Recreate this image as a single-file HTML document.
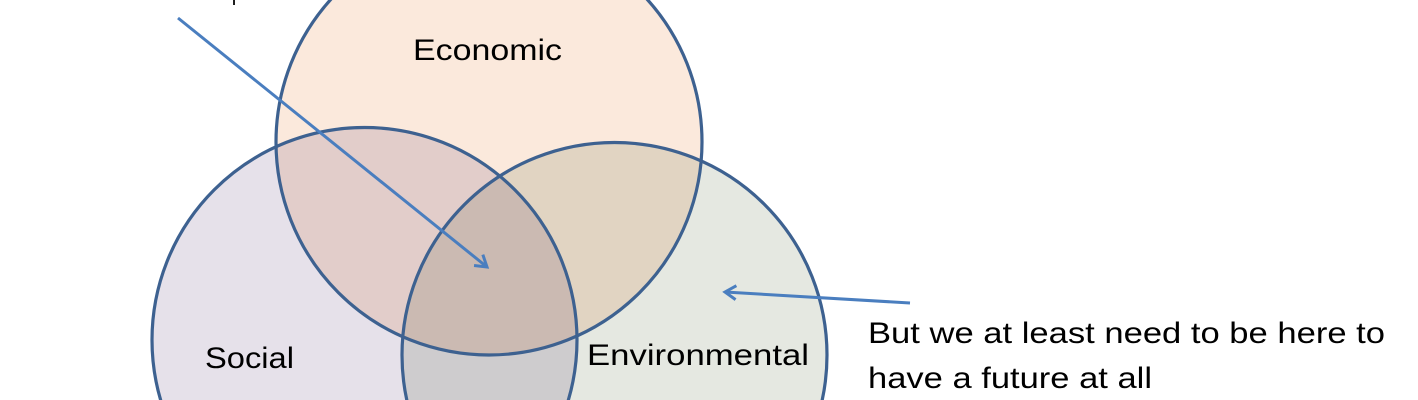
<!DOCTYPE html>
<html><head><meta charset="utf-8"><style>html,body{margin:0;padding:0;background:#fff;overflow:hidden;width:1418px;height:400px}svg{display:block}</style></head>
<body>
<svg width="1418" height="400" viewBox="0 0 1418 400" xmlns="http://www.w3.org/2000/svg" font-family="Liberation Sans, sans-serif" style="overflow:hidden">
<defs>
<marker id="ah" markerWidth="18" markerHeight="18" refX="14" refY="9" orient="auto" markerUnits="userSpaceOnUse">
<path d="M3,2 L14,9 L3,16" fill="none" stroke="#4a7ebf" stroke-width="3"/>
</marker>
</defs>
<g style="isolation:isolate">
<circle cx="489" cy="142" r="213" fill="#fbe9dc" style="mix-blend-mode:multiply"/>
<circle cx="364.5" cy="340" r="212.5" fill="#e6e1ea" style="mix-blend-mode:multiply"/>
<circle cx="614.5" cy="355" r="212.5" fill="#e5e8e1" style="mix-blend-mode:multiply"/>
</g>
<g fill="none" stroke="#3d6190" stroke-width="3.2">
<circle cx="489" cy="142" r="213"/>
<circle cx="364.5" cy="340" r="212.5"/>
<circle cx="614.5" cy="355" r="212.5"/>
</g>
<line x1="178" y1="18" x2="487" y2="267" stroke="#4a7ebf" stroke-width="3" marker-end="url(#ah)"/>
<line x1="910" y1="303" x2="725" y2="292" stroke="#4a7ebf" stroke-width="3" marker-end="url(#ah)"/>
<g font-size="30" fill="#000">
<text x="65" y="-1" textLength="195" lengthAdjust="spacingAndGlyphs">This is the sweet spot</text>
<text x="413" y="60" textLength="149" lengthAdjust="spacingAndGlyphs">Economic</text>
<text x="205" y="368" textLength="89" lengthAdjust="spacingAndGlyphs">Social</text>
<text x="587" y="365" textLength="222" lengthAdjust="spacingAndGlyphs">Environmental</text>
<text x="868" y="343" textLength="517" lengthAdjust="spacingAndGlyphs">But we at least need to be here to</text>
<text x="868" y="388" textLength="284" lengthAdjust="spacingAndGlyphs">have a future at all</text>
</g>
</svg>
</body></html>
